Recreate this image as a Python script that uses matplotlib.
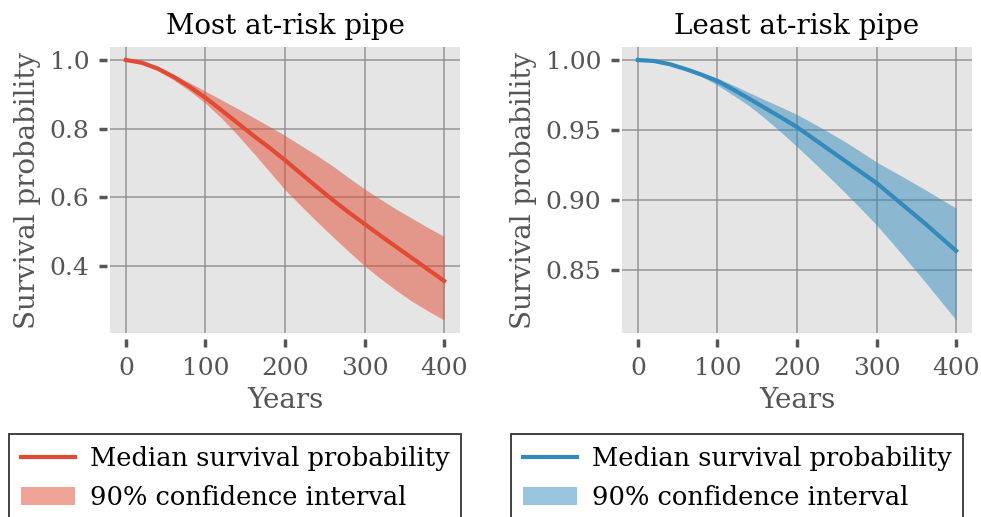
import matplotlib
matplotlib.use("Agg")
import matplotlib.pyplot as plt

plt.rcParams['font.family'] = ['DejaVu Serif']

years = [0, 20, 40, 60, 80, 100, 120, 140, 160, 180, 200,
         220, 240, 260, 280, 300, 320, 340, 360, 380, 400]

most_median = [1.000, 0.992, 0.975, 0.951, 0.922, 0.890, 0.854, 0.817, 0.780, 0.745, 0.708,
               0.669, 0.630, 0.592, 0.556, 0.522, 0.488, 0.455, 0.422, 0.389, 0.356]
most_upper = [1.000, 0.994, 0.979, 0.957, 0.934, 0.909, 0.884, 0.859, 0.833, 0.807, 0.780,
              0.751, 0.722, 0.691, 0.657, 0.624, 0.594, 0.565, 0.538, 0.511, 0.486]
most_lower = [1.000, 0.991, 0.969, 0.942, 0.910, 0.874, 0.831, 0.782, 0.730, 0.676, 0.622,
              0.575, 0.529, 0.485, 0.442, 0.400, 0.363, 0.328, 0.296, 0.268, 0.242]

least_median = [1.000, 0.9993, 0.9970, 0.9935, 0.9895, 0.985, 0.9788, 0.9723, 0.9656, 0.9589, 0.952,
                0.944, 0.936, 0.928, 0.920, 0.912, 0.9025, 0.893, 0.8835, 0.8735, 0.8635]
least_upper = [1.000, 0.9994, 0.9974, 0.9945, 0.9910, 0.987, 0.9820, 0.9766, 0.9714, 0.9663, 0.961,
               0.9548, 0.9484, 0.9417, 0.9345, 0.927, 0.9206, 0.9142, 0.9076, 0.9008, 0.894]
least_lower = [1.000, 0.9992, 0.9968, 0.9932, 0.9882, 0.982, 0.9747, 0.9672, 0.9581, 0.9484, 0.938,
               0.9274, 0.9165, 0.9053, 0.8938, 0.882, 0.8690, 0.8556, 0.8420, 0.8280, 0.814]

titles = ["Most at-risk pipe", "Least at-risk pipe"]
xticks = [0, 100, 200, 300, 400]
yticks_most = [0.4, 0.6, 0.8, 1.0]
yticks_least = [0.85, 0.90, 0.95, 1.00]
legend_labels = ["Median survival probability", "90% confidence interval"]
colors = ["#E24A33", "#348ABD"]

W, H = 981, 517
fig = plt.figure(figsize=(W / 100, H / 100), dpi=100)

def px_axes(x0, x1, y0, y1):
    return fig.add_axes([x0 / W, 1 - y1 / H, (x1 - x0) / W, (y1 - y0) / H])

ax1 = px_axes(110, 460, 47, 333)
ax2 = px_axes(622, 972, 47, 333)

data = [(ax1, most_median, most_lower, most_upper, colors[0], yticks_most, "{:.1f}", 9),
        (ax2, least_median, least_lower, least_upper, colors[1], yticks_least, "{:.2f}", 511)]

for i, (ax, med, lo, up, col, yt, fmt, legx) in enumerate(data):
    ax.set_facecolor("#E5E5E5")
    ax.set_axisbelow(True)
    ax.grid(True, color="#909090", linewidth=1.3, alpha=0.8)
    line, = ax.plot(years, med, color=col, linewidth=3, zorder=3)
    band = ax.fill_between(years, lo, up, color=col, alpha=0.5, linewidth=0, zorder=2)
    ax.set_xticks(xticks)
    ax.set_yticks(yt)
    ax.set_yticklabels([fmt.format(v) for v in yt])
    for s in ax.spines.values():
        s.set_visible(False)
    ax.spines['bottom'].set_position(('outward', 4))
    ax.spines['left'].set_position(('outward', 2))
    ax.tick_params(axis='both', which='major', direction='out', length=6, width=2.5,
                   color="#555555", labelcolor="#555555", labelsize=18, pad=7)
    ax.set_xlabel("Years", fontsize=20, color="#555555", labelpad=5)
    ax.set_ylabel("Survival probability", fontsize=20, color="#555555", labelpad=6)
    ax.set_title(titles[i], fontsize=20, color="black", pad=9)
    leg = fig.legend([line, band], legend_labels, loc="upper left",
                     bbox_to_anchor=(legx / W, 1 - 434 / H), fontsize=18.5,
                     fancybox=False, framealpha=1, edgecolor="#333333",
                     handlelength=2.1, handletextpad=0.6, borderpad=0.45,
                     labelspacing=0.55, borderaxespad=0)
    leg.get_frame().set_linewidth(1.3)

fig.savefig("out.png", dpi=100)
